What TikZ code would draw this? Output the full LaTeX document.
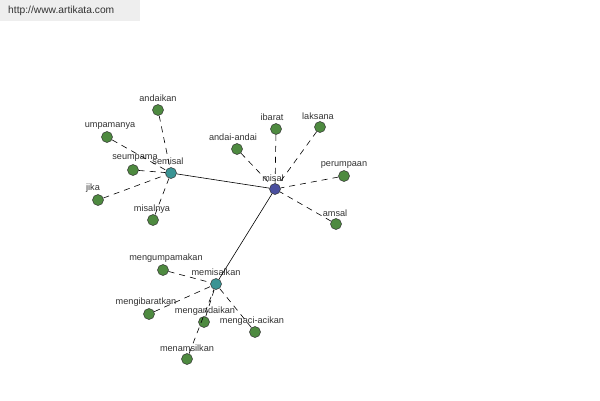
\documentclass[tikz,border=0pt]{standalone}
\usepackage{fontspec}
\setmainfont{Liberation Sans}
\definecolor{gn}{HTML}{4E8A40}
\definecolor{bl}{HTML}{4A4F9E}
\definecolor{tl}{HTML}{3A9494}
\definecolor{hdr}{HTML}{EEEEEE}
\definecolor{txt}{HTML}{333333}
\begin{document}
\begin{tikzpicture}[x=1bp,y=-1bp,
  dot/.style={circle,draw=black!80,line width=0.5bp,minimum size=11bp,inner sep=0pt},
  leaf/.style={dot,fill=gn},
  hubm/.style={dot,fill=bl},
  hubs/.style={dot,fill=tl},
  lbl/.style={font=\fontsize{9.2}{10}\selectfont,text=txt,inner sep=0pt},
  syn/.style={dashed,dash pattern=on 6bp off 5bp,line width=0.6bp},
  link/.style={line width=0.6bp}]
\useasboundingbox[fill=white] (0,0) rectangle (600,400);
\fill[hdr] (0,0) rectangle (140,21);
\node[lbl,font=\fontsize{10.3}{12}\selectfont,text=black!80,anchor=west] (url) at (8,11) {http://www.artikata.com};
% hubs
\node[hubm] (misal) at (275,189) {};
\node[hubs] (semisal) at (171,173) {};
\node[hubs] (memisalkan) at (216,284) {};
% leaves
\node[leaf] (andaikan) at (158,110) {};
\node[leaf] (umpamanya) at (107,137) {};
\node[leaf] (seumpama) at (133,170) {};
\node[leaf] (jika) at (98,200) {};
\node[leaf] (misalnya) at (153,220) {};
\node[leaf] (andaiandai) at (237,149) {};
\node[leaf] (ibarat) at (276,129) {};
\node[leaf] (laksana) at (320,127) {};
\node[leaf] (perumpaan) at (344,176) {};
\node[leaf] (amsal) at (336,224) {};
\node[leaf] (mengumpamakan) at (163,270) {};
\node[leaf] (mengibaratkan) at (149,314) {};
\node[leaf] (mengandaikan) at (204,322) {};
\node[leaf] (mengaci) at (255,332) {};
\node[leaf] (menamsilkan) at (187,359) {};
% labels
\node[lbl] (l-misal) at (273,178) {misal};
\node[lbl] (l-semisal) at (168,161) {semisal};
\node[lbl] (l-memisalkan) at (216,272) {memisalkan};
\node[lbl] (l-andaikan) at (158,98) {andaikan};
\node[lbl] (l-umpamanya) at (110,126) {umpamanya};
\node[lbl] (l-seumpama) at (135,158) {seumpama};
\node[lbl] (l-jika) at (93,188) {jika};
\node[lbl] (l-misalnya) at (152,209) {misalnya};
\node[lbl] (l-andaiandai) at (233,137) {andai-andai};
\node[lbl] (l-ibarat) at (272,117) {ibarat};
\node[lbl] (l-laksana) at (318,116) {laksana};
\node[lbl] (l-perumpaan) at (344,165) {perumpaan};
\node[lbl] (l-amsal) at (335,213) {amsal};
\node[lbl] (l-mengumpamakan) at (166,258) {mengumpamakan};
\node[lbl] (l-mengibaratkan) at (146,302) {mengibaratkan};
\node[lbl] (l-mengandaikan) at (205,311) {mengandaikan};
\node[lbl] (l-mengaci) at (252,321) {mengaci-acikan};
\node[lbl] (l-menamsilkan) at (187,348) {menamsilkan};
% connectors
\draw[link] (semisal) -- (misal);
\draw[link] (memisalkan) -- (misal);
\foreach \n in {andaikan,umpamanya,seumpama,jika,misalnya}
  \draw[syn] (\n) -- (semisal);
\foreach \n in {andaiandai,ibarat,laksana,perumpaan,amsal}
  \draw[syn] (\n) -- (misal);
\foreach \n in {mengumpamakan,mengibaratkan,mengandaikan,mengaci,menamsilkan}
  \draw[syn] (\n) -- (memisalkan);
\end{tikzpicture}
\end{document}
